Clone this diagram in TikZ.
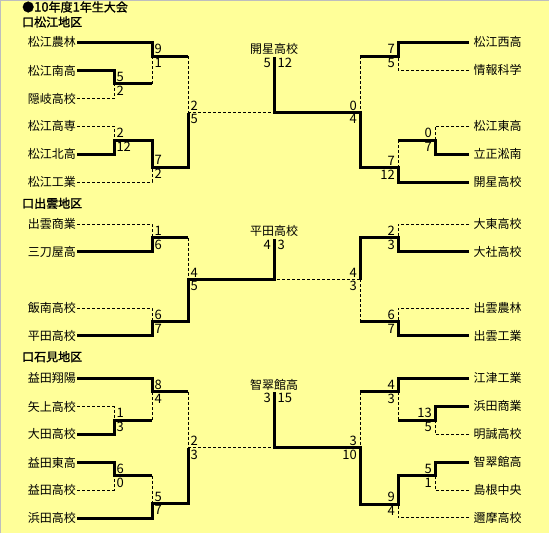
\documentclass[tikz,border=0pt]{standalone}
\usepackage{fontspec}
\setmainfont{Noto Sans CJK JP}
\newfontfamily\hdfont[FakeBold=1.5]{Noto Sans CJK JP}
\definecolor{bg}{RGB}{255,255,153}
\definecolor{frame}{RGB}{190,190,190}
\newcommand\lteam[3]{\node[team,anchor=east] (#1) at (77,#2) {#3};}
\newcommand\rteam[3]{\node[team,anchor=west,inner xsep=4.5pt] (#1) at (469,#2) {#3};}
\begin{document}
\begin{tikzpicture}[x=1pt,y=-1pt,
  team/.style={inner ysep=0pt, inner xsep=1pt, font=\fontsize{12}{12}\selectfont},
  score/.style={inner sep=0pt, font=\fontsize{13}{13}\selectfont},
  lu/.style={score, anchor=west, xshift=2.3pt, yshift=6.8pt},
  ll/.style={score, anchor=west, xshift=2.3pt, yshift=-6.8pt},
  ru/.style={score, anchor=east, xshift=-3pt, yshift=6.8pt},
  rl/.style={score, anchor=east, xshift=-3pt, yshift=-6.8pt},
  fl/.style={score, anchor=east, xshift=-3pt, yshift=-6pt},
  fr/.style={score, anchor=west, xshift=3.5pt, yshift=-6pt},
  champ/.style={inner sep=0pt, font=\fontsize{12}{12}\selectfont, anchor=south, yshift=1.5pt},
  win/.style={line width=3pt, line join=miter},
  lose/.style={line width=1pt, dash pattern=on 3pt off 2pt},
  hdr/.style={inner sep=0pt, anchor=west, font=\hdfont\fontsize{12}{12}\selectfont},
]
\useasboundingbox (0,0) rectangle (549,533);
\fill[bg] (0,0) rectangle (549,533);
\draw[frame, line width=1pt] (0.5,533) -- (0.5,0.5) -- (549,0.5);

% headers
\node[hdr] (title) at (22,7) {●\fontsize{13}{13}\selectfont 10\fontsize{12}{12}\selectfont 年度\fontsize{13}{13}\selectfont 1\fontsize{12}{12}\selectfont 年生大会};
\node[hdr] (h1) at (22,22) {口松江地区};
\node[hdr] (h2) at (22,203.3) {口出雲地区};
\node[hdr] (h3) at (22,356.7) {口石見地区};

%================ 松江 ================
\lteam{m1}{42}{松江農林}
\lteam{m2}{70.5}{松江南高}
\lteam{m3}{98.5}{隠岐高校}
\lteam{m4}{126}{松江高専}
\lteam{m5}{154}{松江北高}
\lteam{m6}{182}{松江工業}
\rteam{m7}{42}{松江西高}
\rteam{m8}{70}{情報科学}
\rteam{m9}{126}{松江東高}
\rteam{m10}{154}{立正淞南}
\rteam{m11}{182}{開星高校}
\coordinate (mA) at (114,83.5);
\coordinate (mB) at (152,56);
\coordinate (mC) at (114,140);
\coordinate (mD) at (152,167);
\coordinate (mE) at (188,112.5);
\coordinate (mF) at (274,112.5);
\coordinate (mT) at (274,56.5);
\coordinate (mRA) at (398,56);
\coordinate (mRB) at (435,140);
\coordinate (mRC) at (398,167.5);
\coordinate (mRD) at (360,112.5);

\draw[win] (m1.east) -| (mB) -- (mB -| mE);
\draw[lose] (mB -| mE) -- (mE);
\draw[win] (m2.east) -| (mA) -- (mA -| mB);
\draw[lose] (mA -| mB) -- (mB);
\draw[lose] (m3.east) -| (mA);
\draw[lose] (m4.east) -| (mC);
\draw[win] (m5.east) -| (mC) -| (mD) -| (mE);
\draw[lose] (mE) -- (mF);
\draw[lose] (m6.east) -| (mD);
\draw[win] (m7.west) -| (mRA) -- (mRA -| mRD);
\draw[lose] (mRA -| mRD) -- (mRD);
\draw[lose] (m8.west) -| (mRA);
\draw[lose] (m9.west) -| (mRB);
\draw[win] (m10.west) -| (mRB) -- (mRB -| mRC);
\draw[lose] (mRB -| mRC) -- (mRC);
\draw[win] (m11.west) -| (mRC) -| (mRD) -- (mF) -- (mT);

\node[lu] (sA1) at (mA) {5};  \node[ll] (sA2) at (mA) {2};
\node[lu] (sB1) at (mB) {9};  \node[ll] (sB2) at (mB) {1};
\node[lu] (sC1) at (mC) {2};  \node[ll] (sC2) at (mC) {12};
\node[lu] (sD1) at (mD) {7};  \node[ll] (sD2) at (mD) {2};
\node[lu] (sE1) at (mE) {2};  \node[ll] (sE2) at (mE) {5};
\node[ru] (sRA1) at (mRA) {7}; \node[rl] (sRA2) at (mRA) {5};
\node[ru] (sRB1) at (mRB) {0}; \node[rl] (sRB2) at (mRB) {7};
\node[ru] (sRC1) at (mRC) {7}; \node[rl] (sRC2) at (mRC) {12};
\node[ru] (sRD1) at (mRD) {0}; \node[rl] (sRD2) at (mRD) {4};
\node[fl] (sF1) at (mT) {5}; \node[fr] (sF2) at (mT) {12};
\node[champ] (cm) at (mT) {開星高校};

%================ 出雲 ================
\lteam{i1}{224}{出雲商業}
\lteam{i2}{251.5}{三刀屋高}
\lteam{i3}{308}{飯南高校}
\lteam{i4}{335.5}{平田高校}
\rteam{i5}{224}{大東高校}
\rteam{i6}{251.5}{大社高校}
\rteam{i7}{308}{出雲農林}
\rteam{i8}{335.5}{出雲工業}
\coordinate (iA) at (152,237.7);
\coordinate (iB) at (152,321.7);
\coordinate (iE) at (188,279.5);
\coordinate (iF) at (274,279.5);
\coordinate (iT) at (274,238.5);
\coordinate (iRA) at (398,237.7);
\coordinate (iRB) at (398,321.7);
\coordinate (iRD) at (360,279.5);

\draw[lose] (i1.east) -| (iA);
\draw[win] (i2.east) -| (iA) -- (iA -| iE);
\draw[lose] (iA -| iE) -- (iE);
\draw[lose] (i3.east) -| (iB);
\draw[win] (i4.east) -| (iB) -| (iE) -- (iF) -- (iT);
\draw[lose] (i5.west) -| (iRA);
\draw[win] (i6.west) -| (iRA) -| (iRD);
\draw[lose] (iRD) -- (iF);
\draw[lose] (i7.west) -| (iRB);
\draw[win] (i8.west) -| (iRB) -- (iRB -| iRD);
\draw[lose] (iRB -| iRD) -- (iRD);

\node[lu] (tA1) at (iA) {1};  \node[ll] (tA2) at (iA) {6};
\node[lu] (tB1) at (iB) {6};  \node[ll] (tB2) at (iB) {7};
\node[lu] (tE1) at (iE) {4};  \node[ll] (tE2) at (iE) {5};
\node[ru] (tRA1) at (iRA) {2}; \node[rl] (tRA2) at (iRA) {3};
\node[ru] (tRB1) at (iRB) {6}; \node[rl] (tRB2) at (iRB) {7};
\node[ru] (tRD1) at (iRD) {4}; \node[rl] (tRD2) at (iRD) {3};
\node[fl] (tF1) at (iT) {4}; \node[fr] (tF2) at (iT) {3};
\node[champ] (ci) at (iT) {平田高校};

%================ 石見 ================
\lteam{w1}{378}{益田翔陽}
\lteam{w2}{406.5}{矢上高校}
\lteam{w3}{434.3}{大田高校}
\lteam{w4}{462.5}{益田東高}
\lteam{w5}{490}{益田高校}
\lteam{w6}{518}{浜田高校}
\rteam{w7}{378}{江津工業}
\rteam{w8}{406}{浜田商業}
\rteam{w9}{434.3}{明誠高校}
\rteam{w10}{462}{智翠館高}
\rteam{w11}{490}{島根中央}
\rteam{w12}{517.5}{邇摩高校}
\coordinate (wA) at (114,420);
\coordinate (wB) at (152,391.7);
\coordinate (wC) at (114,475.7);
\coordinate (wD) at (152,503.5);
\coordinate (wE) at (188,447.7);
\coordinate (wF) at (274,447.7);
\coordinate (wT) at (274,392.3);
\coordinate (wRA) at (398,391.7);
\coordinate (wRB) at (435,420);
\coordinate (wRC) at (435,475.7);
\coordinate (wRD) at (398,504);
\coordinate (wRE) at (360,447.7);

\draw[win] (w1.east) -| (wB) -- (wB -| wE);
\draw[lose] (wB -| wE) -- (wE);
\draw[lose] (w2.east) -| (wA);
\draw[win] (w3.east) -| (wA) -- (wA -| wB);
\draw[lose] (wA -| wB) -- (wB);
\draw[win] (w4.east) -| (wC) -- (wC -| wD);
\draw[lose] (wC -| wD) -- (wD);
\draw[lose] (w5.east) -| (wC);
\draw[win] (w6.east) -| (wD) -| (wE);
\draw[lose] (wE) -- (wF);
\draw[win] (w7.west) -| (wRA) -- (wRA -| wRE);
\draw[lose] (wRA -| wRE) -- (wRE);
\draw[win] (w8.west) -| (wRB) -- (wRB -| wRA);
\draw[lose] (wRB -| wRA) -- (wRA);
\draw[lose] (w9.west) -| (wRB);
\draw[win] (w10.west) -| (wRC) -| (wRD) -| (wRE) -- (wF) -- (wT);
\draw[lose] (w11.west) -| (wRC);
\draw[lose] (w12.west) -| (wRD);

\node[lu] (uA1) at (wA) {1};  \node[ll] (uA2) at (wA) {3};
\node[lu] (uB1) at (wB) {8};  \node[ll] (uB2) at (wB) {4};
\node[lu] (uC1) at (wC) {6};  \node[ll] (uC2) at (wC) {0};
\node[lu] (uD1) at (wD) {5};  \node[ll] (uD2) at (wD) {7};
\node[lu] (uE1) at (wE) {2};  \node[ll] (uE2) at (wE) {3};
\node[ru] (uRA1) at (wRA) {4}; \node[rl] (uRA2) at (wRA) {3};
\node[ru] (uRB1) at (wRB) {13}; \node[rl] (uRB2) at (wRB) {5};
\node[ru] (uRC1) at (wRC) {5}; \node[rl] (uRC2) at (wRC) {1};
\node[ru] (uRD1) at (wRD) {9}; \node[rl] (uRD2) at (wRD) {4};
\node[ru] (uRE1) at (wRE) {3}; \node[rl] (uRE2) at (wRE) {10};
\node[fl] (uF1) at (wT) {3}; \node[fr] (uF2) at (wT) {15};
\node[champ] (cw) at (wT) {智翠館高};
\end{tikzpicture}
\end{document}
